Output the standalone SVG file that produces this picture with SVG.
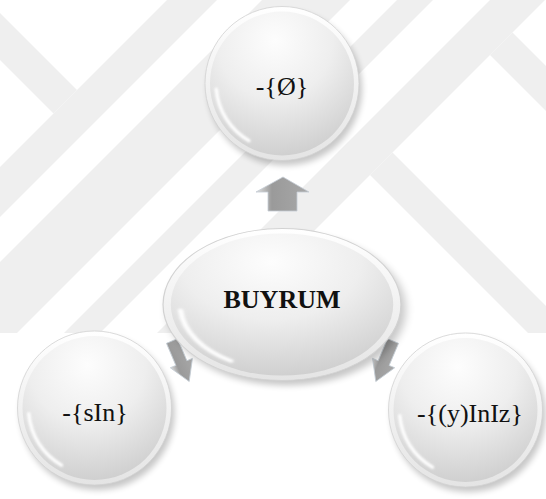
<svg xmlns="http://www.w3.org/2000/svg" width="546" height="499" viewBox="0 0 546 499">
  <defs>
    <style>
      .band { fill: #efefef; }
      .lbl { font-family: "Liberation Serif", "Times New Roman", serif; font-size: 26px; fill: #111111; text-anchor: middle; }
      .bold { font-weight: bold; }
      .arrow { fill: url(#steel); stroke: #c4ccd4; stroke-width: 0.8; stroke-linejoin: round; }
    </style>
    <clipPath id="wm"><rect x="0" y="0" width="546" height="333"/></clipPath>
    <filter id="soft" x="-30%" y="-30%" width="160%" height="160%"><feGaussianBlur stdDeviation="3"/></filter>
    <filter id="glint" x="-20%" y="-20%" width="140%" height="140%"><feGaussianBlur stdDeviation="0.9"/></filter>
    <linearGradient id="rim" x1="0" y1="0" x2="0" y2="1">
      <stop offset="0" stop-color="#ffffff"/>
      <stop offset="1" stop-color="#e4e4e4"/>
    </linearGradient>
    <radialGradient id="face" cx="0.45" cy="0.2" r="0.9">
      <stop offset="0" stop-color="#fdfdfd"/>
      <stop offset="0.45" stop-color="#eeeeee"/>
      <stop offset="1" stop-color="#c8c8c8"/>
    </radialGradient>
    <linearGradient id="steel" x1="0" y1="0" x2="1" y2="0">
      <stop offset="0" stop-color="#e0e0e0"/>
      <stop offset="0.3" stop-color="#9a9a9a"/>
      <stop offset="1" stop-color="#a8a8a8"/>
    </linearGradient>
    <!-- glossy sphere, radius 77, centred on the origin -->
    <g id="orb">
      <circle cx="3" cy="5" r="77" fill="#000000" opacity="0.22" filter="url(#soft)"/>
      <circle r="77" fill="url(#rim)" stroke="#d2d2d2" stroke-width="0.8"/>
      <circle r="72" fill="url(#face)"/>
      <path d="M -65.7 5.8 A 66 66 0 0 0 -33 57.2" fill="none" stroke="#ffffff" stroke-width="3.5" stroke-linecap="round" opacity="0.95" filter="url(#glint)"/>
    </g>
    <!-- slim block arrow pointing down the +y axis -->
    <path id="dart" d="M -6 0 L 6 0 L 6 24 L 12 24 L 0 44 L -12 24 L -6 24 Z"/>
  </defs>

  <!-- page -->
  <rect width="546" height="499" fill="#ffffff"/>

  <!-- watermark bands -->
  <g id="watermark" clip-path="url(#wm)">
    <polygon class="band" points="0,13 77,90 53.5,113.5 0,60"/>
    <polygon class="band" points="167,0 217,0 0,217 0,167"/>
    <polygon class="band" points="262,0 350,0 17,333 0,333 0,262"/>
    <polygon class="band" points="397,0 433,0 100,333 64,333"/>
    <polygon class="band" points="490,0 545,0 212,333 157,333"/>
    <polygon class="band" points="392.5,152.5 546,306 546,351 370,175"/>
    <polygon class="band" points="512.5,32.5 546,66 546,111 490,55"/>
  </g>

  <!-- connectors -->
  <g id="connectors">
    <path class="arrow" d="M 283 177 L 309 192 L 297 192 L 297 211 L 268 211 L 268 192 L 256 192 Z"/>
    <use href="#dart" class="arrow" transform="translate(172,341) rotate(-23)"/>
    <use href="#dart" class="arrow" transform="translate(393,341) rotate(23)"/>
  </g>

  <!-- nodes -->
  <g id="node-top">
    <use href="#orb" transform="translate(282,83.5)"/>
    <text class="lbl" x="282" y="95">-{Ø}</text>
  </g>
  <g id="node-center">
    <use href="#orb" transform="translate(282,304.5) scale(1.545,0.987)"/>
    <text class="lbl bold" x="282" y="308">BUYRUM</text>
  </g>
  <g id="node-left">
    <use href="#orb" transform="translate(94.5,408)"/>
    <text class="lbl" x="95" y="421">-{sIn}</text>
  </g>
  <g id="node-right">
    <use href="#orb" transform="translate(465.5,410)"/>
    <text class="lbl" x="470" y="422">-{(y)InIz}</text>
  </g>
</svg>
